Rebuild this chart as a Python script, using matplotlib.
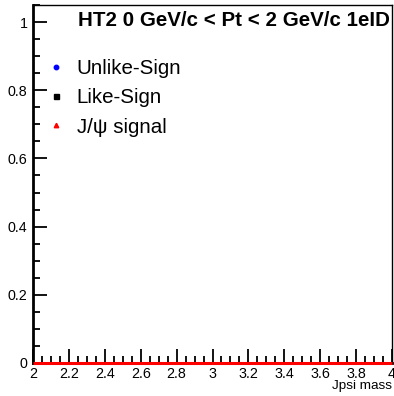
import numpy as np
import matplotlib
matplotlib.use("Agg")
import matplotlib.pyplot as plt
from matplotlib.ticker import MultipleLocator

plt.rcParams['font.family'] = ['Liberation Sans', 'DejaVu Sans']

# invariant mass histograms, 0.05 GeV bins from 2 to 4
mass_edges = np.linspace(2.0, 4.0, 41)
unlike_sign = []          # no entries in this pt bin
like_sign = []
jpsi_signal = np.zeros(40)

title = "HT2 0 GeV/c < Pt < 2 GeV/c 1eID"

W, H = 394, 396
fig = plt.figure(figsize=(W / 100, H / 100), dpi=100)
ax = fig.add_axes([33 / W, (H - 363) / H, (392 - 33) / W, (363 - 5) / H])

ax.plot([], [], 'o', color='#0000ff', ms=3.2, label='Unlike-Sign')
ax.plot([], [], 's', color='black', ms=3.6, label='Like-Sign')
ax.stairs(jpsi_signal, mass_edges, color='#ff0000', lw=2.2, zorder=5,
          clip_on=False)
ax.plot([], [], '^', color='#ff0000', ms=3.2, label='J/\u03c8 signal')

ax.set_xlim(2, 4)
ax.set_ylim(0, 1.05)

ax.xaxis.set_major_locator(MultipleLocator(0.2))
ax.xaxis.set_minor_locator(MultipleLocator(0.05))
ax.yaxis.set_major_locator(MultipleLocator(0.2))
ax.yaxis.set_minor_locator(MultipleLocator(0.05))
ax.xaxis.set_major_formatter(plt.FuncFormatter(lambda v, p: f"{v:g}"))
ax.yaxis.set_major_formatter(plt.FuncFormatter(lambda v, p: f"{v:g}"))

ax.tick_params(which='both', direction='in', top=False, right=False,
               labelsize=10.3, width=1.3)
ax.tick_params(which='major', length=10, pad=3)
ax.tick_params(which='minor', length=5)
ax.tick_params(axis='y', pad=4)

for side in ['left', 'bottom']:
    ax.spines[side].set_linewidth(2)
for side in ['top', 'right']:
    ax.spines[side].set_linewidth(1)

fig.text(78 / W, 1 - 21 / H, title, fontsize=14.8, fontweight='bold',
         va='center', ha='left')
fig.text(392 / W, 1 - 386 / H, 'Jpsi mass', fontsize=9.7, ha='right', va='center')

ax.legend(loc='upper left', bbox_to_anchor=(14 / 359, 1 - 54 / 358),
          frameon=False, fontsize=14.8, handlelength=0.9, handletextpad=0.55,
          labelspacing=0.5, borderpad=0, borderaxespad=0)

fig.savefig('out.png', dpi=100)
